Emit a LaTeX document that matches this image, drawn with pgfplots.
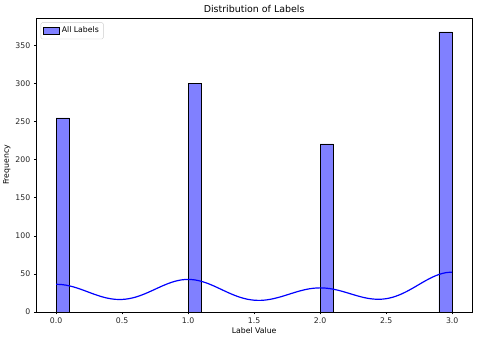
\documentclass[border=0pt]{standalone}
\usepackage{pgfplots}
\pgfplotsset{compat=1.18}
\usepackage{fontspec}
\setmainfont{DejaVu Sans}
\definecolor{histfill}{RGB}{128,128,255}
\definecolor{legframe}{RGB}{204,204,204}
\pgfplotsset{histpatch/.style={legend image code/.code={%
  \draw[sharp corners, fill=histfill, draw=black, line width=0.5bp] (0bp,-3bp) rectangle (16bp,3.5bp);}}}
\begin{document}
\begin{tikzpicture}
\begin{axis}[
  width=436bp, height=294bp, scale only axis,
  xmin=-0.15, xmax=3.15, ymin=0, ymax=386.4,
  xtick={0,0.5,1,1.5,2,2.5,3},
  xticklabels={0.0,0.5,1.0,1.5,2.0,2.5,3.0},
  ytick={0,50,100,150,200,250,300,350},
  /pgf/number format/assume math mode=true,
  tick align=outside, tick pos=left, major tick length=2.5bp,
  tick style={black, line width=0.5bp},
  axis line style={black, line width=0.5bp},
  ticklabel style={font=\fontsize{7.8}{9}\selectfont, text=black!85},
  xlabel={Label Value}, ylabel={Frequency},
  label style={font=\fontsize{7.8}{9}\selectfont},
  xlabel style={yshift=3bp}, ylabel style={yshift=-2bp},
  title={Distribution of Labels},
  title style={font=\fontsize{9.5}{11}\selectfont, yshift=-4bp},
  legend style={at={(0.01,0.985)}, anchor=north west, draw=legframe, rounded corners=1.5bp,
    fill=white, font=\fontsize{7.8}{9}\selectfont, inner sep=2.5bp,
    row sep=0pt},
  legend cell align=left,
]
\addplot[ybar, bar width=0.1, bar shift=0pt, fill=histfill, draw=black, line width=0.5bp, histpatch]
coordinates {(0.05,255) (1.05,300) (2.05,221) (2.95,368)};
\addlegendentry{All Labels}
\addplot[blue, line width=1.2bp, smooth, forget plot] coordinates {
(0.00,36.20) (0.05,35.70) (0.10,34.18) (0.15,31.79) (0.20,28.83) (0.25,25.59)
(0.30,22.42) (0.35,19.65) (0.40,17.57) (0.45,16.39) (0.50,16.26) (0.55,17.22)
(0.60,19.23) (0.65,22.15) (0.70,25.74) (0.75,29.70) (0.80,33.67) (0.85,37.26)
(0.90,40.14) (0.95,41.99) (1.00,42.62) (1.05,41.98) (1.10,40.11) (1.15,37.22)
(1.20,33.59) (1.25,29.56) (1.30,25.52) (1.35,21.81) (1.40,18.73) (1.45,16.50)
(1.50,15.26) (1.55,15.04) (1.60,15.81) (1.65,17.42) (1.70,19.69) (1.75,22.34)
(1.80,25.08) (1.85,27.63) (1.90,29.68) (1.95,31.01) (2.00,31.48) (2.05,31.04)
(2.10,29.73) (2.15,27.73) (2.20,25.25) (2.25,22.62) (2.30,20.12) (2.35,18.10)
(2.40,16.80) (2.45,16.47) (2.50,17.25) (2.55,19.19) (2.60,22.25) (2.65,26.27)
(2.70,30.98) (2.75,36.06) (2.80,41.07) (2.85,45.57) (2.90,49.14) (2.95,51.43)
(3.00,52.19)};
\end{axis}
\path (current axis.south west) ++(-36bp,-32bp) (current axis.north east) ++(8bp,18bp);
\end{tikzpicture}
\end{document}
